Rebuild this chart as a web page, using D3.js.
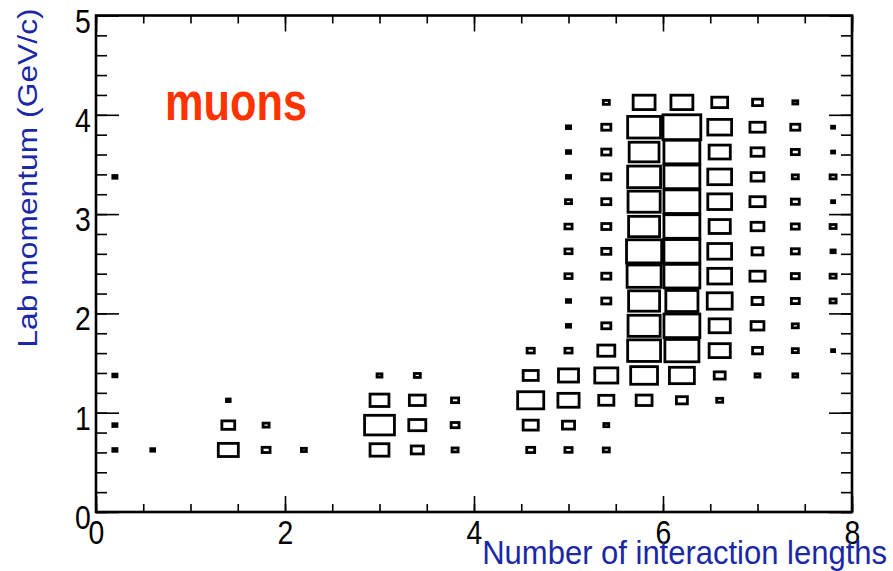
<!DOCTYPE html>
<html>
<head>
<meta charset="utf-8">
<script src="https://cdn.jsdelivr.net/npm/d3@7"></script>
<style>
  html, body { margin: 0; padding: 0; background: #fff; }
  svg { display: block; font-family: "Liberation Sans", Arial, Helvetica, sans-serif; }
</style>
</head>
<body>
<svg id="chart" width="893" height="571"></svg>
<script>
// ---- data ----
const xCenters = [0.2, 0.6, 1.0, 1.4, 1.8, 2.2, 2.6, 3.0, 3.4, 3.8, 4.2, 4.6, 5.0, 5.4, 5.8, 6.2, 6.6, 7.0, 7.4, 7.8];
const yCenters = [0.625, 0.875, 1.125, 1.375, 1.625, 1.875, 2.125, 2.375, 2.625, 2.875, 3.125, 3.375, 3.625, 3.875, 4.125];
const binWidthX = 0.4;
const binWidthY = 0.25;
// counts[column][row] : one column per xCenter, one entry per yCenter
const counts = [
  [11, 11, 0, 11, 0, 0, 0, 0, 0, 0, 0, 11, 0, 0, 0],      // 0.2
  [10, 0, 0, 0, 0, 0, 0, 0, 0, 0, 0, 0, 0, 0, 0],          // 0.6
  [0, 0, 0, 0, 0, 0, 0, 0, 0, 0, 0, 0, 0, 0, 0],           // 1.0
  [53, 34, 10, 0, 0, 0, 0, 0, 0, 0, 0, 0, 0, 0, 0],        // 1.4
  [21, 16, 0, 0, 0, 0, 0, 0, 0, 0, 0, 0, 0, 0, 0],         // 1.8
  [13, 0, 0, 0, 0, 0, 0, 0, 0, 0, 0, 0, 0, 0, 0],          // 2.2
  [0, 0, 0, 0, 0, 0, 0, 0, 0, 0, 0, 0, 0, 0, 0],           // 2.6
  [50, 79, 50, 13, 0, 0, 0, 0, 0, 0, 0, 0, 0, 0, 0],       // 3.0
  [32, 45, 42, 16, 0, 0, 0, 0, 0, 0, 0, 0, 0, 0, 0],       // 3.4
  [16, 21, 19, 0, 0, 0, 0, 0, 0, 0, 0, 0, 0, 0, 0],        // 3.8
  [0, 0, 0, 0, 0, 0, 0, 0, 0, 0, 0, 0, 0, 0, 0],           // 4.2
  [21, 40, 69, 40, 19, 0, 0, 0, 0, 0, 0, 0, 0, 0, 0],      // 4.6
  [19, 32, 56, 53, 19, 11, 11, 19, 19, 19, 16, 11, 11, 11, 0],   // 5.0
  [16, 13, 40, 61, 45, 24, 24, 24, 24, 24, 24, 24, 24, 24, 16],  // 5.4
  [0, 0, 42, 71, 87, 85, 82, 90, 93, 82, 85, 87, 79, 87, 58],    // 5.8
  [0, 0, 29, 66, 90, 95, 85, 95, 95, 95, 95, 95, 95, 100, 58],   // 6.2
  [0, 0, 16, 29, 56, 56, 66, 63, 63, 56, 63, 63, 56, 63, 42],    // 6.6
  [0, 0, 0, 13, 26, 34, 29, 40, 29, 34, 40, 34, 34, 40, 26],     // 7.0
  [0, 0, 0, 13, 16, 16, 21, 21, 21, 21, 21, 16, 21, 24, 13],     // 7.4
  [0, 0, 0, 0, 8, 0, 16, 16, 11, 16, 8, 16, 8, 8, 0]             // 7.8
];
const xTicks = [0, 2, 4, 6, 8];
const yTicks = [0, 1, 2, 3, 4, 5];
const xMinorTicks = d3.range(0, 8.001, 0.5);
const yMinorTicks = d3.range(0, 5.001, 0.2);
const title = "muons";
const xLabel = "Number of interaction lengths";
const yLabel = "Lab momentum (GeV/c)";

// ---- layout ----
const svg = d3.select("#chart");
const mLeft = 96, mRight = 852, mTop = 15.5, mBottom = 512;
const x = d3.scaleLinear().domain([0, 8]).range([mLeft, mRight]);
const y = d3.scaleLinear().domain([0, 5]).range([mBottom, mTop]);
const maxCount = d3.max(counts.flat());
const textBlue = "#1a28a6";
const axisW = 2.6;

// cells
const cells = [];
counts.forEach((col, i) => col.forEach((v, j) => {
  if (v > 0) cells.push({ x: xCenters[i], y: yCenters[j], v });
}));
const bw = x(binWidthX) - x(0);
const bh = y(0) - y(binWidthY);
svg.append("g").selectAll("rect").data(cells).join("rect")
  .attr("x", d => x(d.x) - bw * d.v / maxCount / 2)
  .attr("y", d => y(d.y) - bh * d.v / maxCount / 2)
  .attr("width", d => bw * d.v / maxCount)
  .attr("height", d => bh * d.v / maxCount)
  .attr("fill", "none")
  .attr("stroke", "#000")
  .attr("stroke-width", 2.8);

// axes (ticks inside, mirrored)
function styleAxis(g) {
  g.select(".domain").remove();
  g.selectAll("line").attr("stroke", "#000").attr("stroke-width", 1.6);
  g.selectAll("text").attr("fill", "#000").attr("font-size", 33)
    .attr("font-family", "'Liberation Sans', Arial, sans-serif")
    .attr("transform", "scale(0.86,1)");
}
// bottom
svg.append("g").attr("transform", `translate(0,${mBottom})`)
  .call(d3.axisBottom(x).tickValues(xMinorTicks).tickSize(-8).tickFormat(""))
  .call(styleAxis);
svg.append("g").attr("transform", `translate(0,${mBottom})`)
  .call(d3.axisBottom(x).tickValues(xTicks).tickSize(-16).tickPadding(9).tickFormat(d3.format("d")))
  .call(styleAxis);
// top
svg.append("g").attr("transform", `translate(0,${mTop})`)
  .call(d3.axisTop(x).tickValues(xMinorTicks).tickSize(-8).tickFormat(""))
  .call(styleAxis);
svg.append("g").attr("transform", `translate(0,${mTop})`)
  .call(d3.axisTop(x).tickValues(xTicks).tickSize(-16).tickFormat(""))
  .call(styleAxis);
// left
svg.append("g").attr("transform", `translate(${mLeft},0)`)
  .call(d3.axisLeft(y).tickValues(yMinorTicks).tickSize(-11).tickFormat(""))
  .call(styleAxis);
svg.append("g").attr("transform", `translate(${mLeft},0)`)
  .call(d3.axisLeft(y).tickValues(yTicks).tickSize(-23).tickPadding(6).tickFormat(d3.format("d")))
  .call(styleAxis)
  .selectAll("text").attr("dy", "0.5em");
// right
svg.append("g").attr("transform", `translate(${mRight},0)`)
  .call(d3.axisRight(y).tickValues(yMinorTicks).tickSize(-11).tickFormat(""))
  .call(styleAxis);
svg.append("g").attr("transform", `translate(${mRight},0)`)
  .call(d3.axisRight(y).tickValues(yTicks).tickSize(-23).tickFormat(""))
  .call(styleAxis);

// frame
svg.append("rect")
  .attr("x", mLeft).attr("y", mTop)
  .attr("width", mRight - mLeft).attr("height", mBottom - mTop)
  .attr("fill", "none").attr("stroke", "#000").attr("stroke-width", axisW);

// title
svg.append("text")
  .attr("transform", "translate(165,120) scale(0.85,1)")
  .attr("font-size", 51).attr("font-weight", "bold")
  .attr("fill", "#ff3300")
  .text(title);

// x label
svg.append("text")
  .attr("transform", "translate(887,564) scale(1,1.08)")
  .attr("text-anchor", "end")
  .attr("font-size", 31)
  .attr("fill", textBlue)
  .text(xLabel);

// y label
svg.append("text")
  .attr("transform", "translate(37,178) rotate(-90) scale(1.06,0.95)")
  .attr("text-anchor", "middle")
  .attr("font-size", 30)
  .attr("fill", textBlue)
  .text(yLabel);
</script>
</body>
</html>
